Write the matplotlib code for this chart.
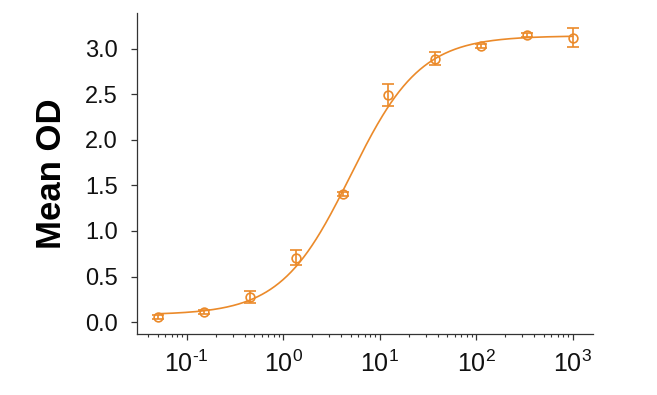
import numpy as np
import matplotlib
matplotlib.use("Agg")
import matplotlib.pyplot as plt

plt.rcParams['font.family'] = ['Liberation Sans', 'DejaVu Sans']
plt.rcParams['mathtext.fontset'] = 'custom'
plt.rcParams['mathtext.rm'] = 'Liberation Sans'
plt.rcParams['mathtext.it'] = 'Liberation Sans:italic'
plt.rcParams['mathtext.bf'] = 'Liberation Sans:bold'

# Data
concentration = [0.0508, 0.152, 0.457, 1.37, 4.12, 12.3, 37.0, 111.0, 333.0, 1000.0]
mean_od = [0.058, 0.113, 0.277, 0.709, 1.403, 2.49, 2.89, 3.03, 3.15, 3.12]
od_err = [0.02, 0.02, 0.062, 0.082, 0.02, 0.12, 0.073, 0.02, 0.02, 0.106]

# 4PL fit parameters (estimated from the drawn curve)
fit_bottom = 0.08
fit_top = 3.14
fit_ec50 = 5.0
fit_hill = 1.2

color = '#EB8A2A'

fig = plt.figure(figsize=(6.57, 3.95), dpi=100)
ax = fig.add_axes([0.2085, 0.1544, 0.694, 0.8126])

xs = np.logspace(np.log10(concentration[0]), np.log10(concentration[-1]), 400)
ys = fit_bottom + (fit_top - fit_bottom) / (1 + (fit_ec50 / xs) ** fit_hill)
ax.plot(xs, ys, color=color, lw=1.2, zorder=2)

ax.errorbar(concentration, mean_od, yerr=od_err, fmt='o', ms=6.3,
            mfc='none', mec=color, mew=1.2, ecolor=color, elinewidth=1.2,
            capsize=4.5, capthick=1.2, zorder=3)

ax.set_xscale('log')
ax.set_xlim(10 ** -1.515, 10 ** 3.21)
ax.set_ylim(-0.13, 3.39)
ax.set_yticks([0.0, 0.5, 1.0, 1.5, 2.0, 2.5, 3.0])
ax.set_yticklabels(['0.0', '0.5', '1.0', '1.5', '2.0', '2.5', '3.0'])
ax.set_xticks([0.1, 1, 10, 100, 1000])
ax.set_xticklabels([r'$10^{\text{-}1}$', r'$10^{0}$', r'$10^{1}$', r'$10^{2}$', r'$10^{3}$'])

for s in ['top', 'right']:
    ax.spines[s].set_visible(False)
for s in ['left', 'bottom']:
    ax.spines[s].set_color('#333333')
    ax.spines[s].set_linewidth(0.9)

ax.tick_params(axis='both', which='major', direction='out', length=4,
               width=0.9, color='#333333', labelsize=17, labelcolor='#111111')
ax.tick_params(axis='y', pad=10)
ax.tick_params(axis='x', which='major', pad=8, labelsize=18)
ax.tick_params(axis='x', which='minor', direction='out', length=2.5,
               width=0.8, color='#333333')

ax.set_ylabel('Mean OD', fontsize=25, fontweight='bold', labelpad=12)

fig.savefig('out.png', dpi=100)
